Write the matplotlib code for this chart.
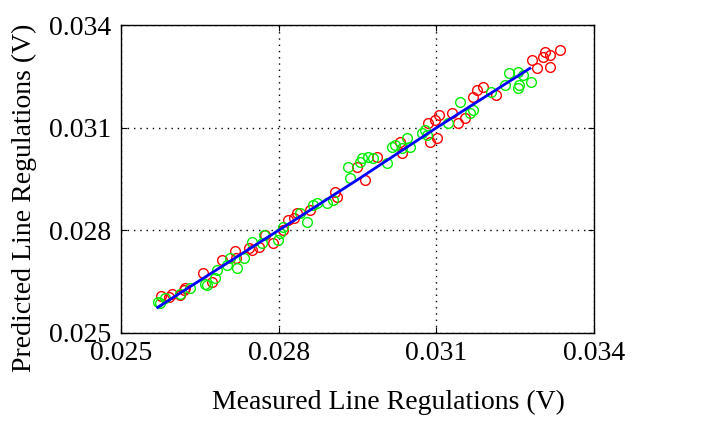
import numpy as np
import matplotlib.pyplot as plt

# measured vs predicted line regulation, two sample sets
meas_a = [0.025760, 0.025906, 0.025969, 0.026127, 0.026191, 0.026222, 0.026558, 0.026729,
          0.026919, 0.027172, 0.027191, 0.027426, 0.027489, 0.027616, 0.027742, 0.027901,
          0.028091, 0.028186, 0.028300, 0.028344, 0.028598, 0.029072, 0.029117, 0.029484,
          0.029643, 0.029864, 0.030339, 0.030308, 0.030846, 0.030878, 0.030973, 0.031004,
          0.031055, 0.031289, 0.031416, 0.031543, 0.031701, 0.031764, 0.031891, 0.032144,
          0.032828, 0.032917, 0.033063, 0.033031, 0.033158, 0.033158, 0.033348]
pred_a = [0.026074, 0.026035, 0.026132, 0.026103, 0.026249, 0.026298, 0.026738, 0.026494,
          0.027128, 0.027401, 0.027177, 0.027470, 0.027421, 0.027518, 0.027860, 0.027616,
          0.028007, 0.028299, 0.028348, 0.028495, 0.028592, 0.029129, 0.028983, 0.029861,
          0.029471, 0.030154, 0.030252, 0.030593, 0.031130, 0.030593, 0.031228, 0.030691,
          0.031374, 0.031423, 0.031130, 0.031277, 0.031911, 0.032106, 0.032184, 0.031960,
          0.032985, 0.032741, 0.033229, 0.033082, 0.033131, 0.032790, 0.033278]

meas_b = [0.025697, 0.025747, 0.025842, 0.026127, 0.026317, 0.026602, 0.026634, 0.026792,
          0.026824, 0.027014, 0.027065, 0.027204, 0.027331, 0.027489, 0.027679, 0.027711,
          0.027996, 0.028027, 0.028091, 0.028408, 0.028534, 0.028661, 0.028724, 0.028914,
          0.029041, 0.029326, 0.029358, 0.029548, 0.029579, 0.029706, 0.029801, 0.030054,
          0.030149, 0.030213, 0.030339, 0.030434, 0.030498, 0.030719, 0.030783, 0.030814,
          0.031226, 0.031448, 0.031638, 0.031701, 0.032049, 0.032303, 0.032385, 0.032556,
          0.032556, 0.032575, 0.032651, 0.032809]
pred_b = [0.025908, 0.025859, 0.026005, 0.026132, 0.026298, 0.026425, 0.026396, 0.026591,
          0.026835, 0.026982, 0.027177, 0.026884, 0.027177, 0.027665, 0.027616, 0.027860,
          0.027714, 0.027909, 0.028104, 0.028495, 0.028251, 0.028739, 0.028787, 0.028787,
          0.028885, 0.029861, 0.029520, 0.030008, 0.030105, 0.030154, 0.030105, 0.029959,
          0.030447, 0.030496, 0.030398, 0.030691, 0.030447, 0.030837, 0.030935, 0.030789,
          0.031130, 0.031764, 0.031423, 0.031521, 0.032057, 0.032253, 0.032594, 0.032643,
          0.032155, 0.032253, 0.032546, 0.032350]

# fitted trend
fit_x = [0.025697, 0.027000, 0.028000, 0.029500, 0.031000, 0.032000, 0.032778]
fit_y = [0.025742, 0.027020, 0.028000, 0.029480, 0.031000, 0.031980, 0.032741]

ticks = [0.025, 0.028, 0.031, 0.034]
tick_labels = ['0.025', '0.028', '0.031', '0.034']

plt.rcParams['font.family'] = ['Liberation Serif', 'DejaVu Serif']

fig = plt.figure(figsize=(7.17, 4.23), dpi=100)
ax = fig.add_axes([0.1688, 0.2135, 0.6597, 0.7265])

ax.plot(meas_a, pred_a, 'o', mfc='none', mec='#ff0000', ms=7, mew=1.0, zorder=3)
ax.plot(meas_b, pred_b, 'o', mfc='none', mec='#00ee00', ms=7, mew=1.0, zorder=3)
ax.plot(fit_x, fit_y, '-', color='#0000ff', lw=2.0, zorder=4)

ax.set_xlim(0.025, 0.034)
ax.set_ylim(0.025, 0.034)
ax.set_xticks(ticks)
ax.set_xticklabels(tick_labels)
ax.set_yticks(ticks)
ax.set_yticklabels(tick_labels)
ax.tick_params(direction='in', top=True, right=True, length=4, labelsize=20)
ax.tick_params(axis='x', pad=6)
ax.tick_params(axis='y', pad=7)
ax.grid(True, color='black', linestyle=(0, (1, 3.5)), linewidth=1.0)
for s in ax.spines.values():
    s.set_linewidth(1.0)

ax.set_xlabel('Measured Line Regulations (V)', fontsize=20, labelpad=17)
ax.set_ylabel('Predicted Line Regulations (V)', fontsize=20, labelpad=9)
# labels sit a little off the axes centre
ax.xaxis.label.set_x(0.565)
ax.yaxis.label.set_y(0.44)

fig.savefig('out.png', dpi=100)
